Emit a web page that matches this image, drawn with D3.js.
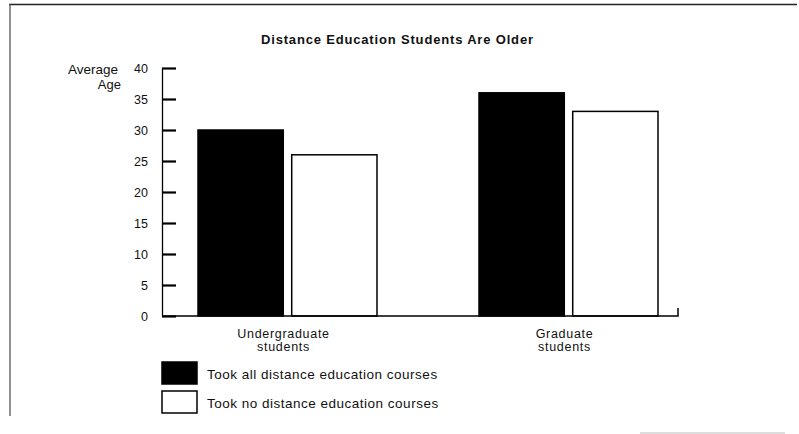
<!DOCTYPE html>
<html>
<head>
<meta charset="utf-8">
<script src="https://cdn.jsdelivr.net/npm/d3@7"></script>
<style>
  body { margin: 0; background: #fff; }
  svg { display: block; }
  text { font-family: "Liberation Sans", Arial, sans-serif; fill: #111; }
</style>
</head>
<body>
<script>
// chart data
const groups = ['Undergraduate students', 'Graduate students'];
const groupLines = [['Undergraduate', 'students'], ['Graduate', 'students']];
const series = ['Took all distance education courses', 'Took no distance education courses'];
const allDistance = [30, 36];
const noDistance = [26, 33];
const yTicks = [0, 5, 10, 15, 20, 25, 30, 35, 40];

const width = 799, height = 434;

const svg = d3.select('body').append('svg')
  .attr('width', width)
  .attr('height', height);

// scanned page frame
svg.append('line').attr('x1', 9).attr('x2', 797).attr('y1', 4.5).attr('y2', 4.5)
  .attr('stroke', '#222').attr('stroke-width', 1.3);
svg.append('line').attr('x1', 10).attr('x2', 10).attr('y1', 4).attr('y2', 416)
  .attr('stroke', '#555').attr('stroke-width', 1.3);
svg.append('line').attr('x1', 640).attr('x2', 785).attr('y1', 433).attr('y2', 433)
  .attr('stroke', '#bbb').attr('stroke-width', 1);

const y = d3.scaleLinear().domain([0, 40]).range([316, 68]);

const x0 = d3.scaleBand()
  .domain(groups)
  .range([147, 709])
  .paddingInner(0.363)
  .paddingOuter(0.1815);

const x1 = d3.scaleBand()
  .domain(series)
  .range([0, x0.bandwidth()])
  .paddingInner(0.09);

const colors = d3.scaleOrdinal().domain(series).range(['#000', '#fff']);

// title
svg.append('text')
  .attr('x', 397).attr('y', 44)
  .attr('text-anchor', 'middle')
  .attr('font-size', 13)
  .attr('font-weight', 'bold')
  .attr('textLength', 272)
  .text('Distance Education Students Are Older');

// y label
svg.append('text').attr('x', 118).attr('y', 74).attr('text-anchor', 'end')
  .attr('font-size', 13.5).attr('fill', '#222').text('Average');
svg.append('text').attr('x', 121).attr('y', 89).attr('text-anchor', 'end')
  .attr('font-size', 13).attr('fill', '#222').text('Age');

// bars
const rows = groups.map((g, i) => ({ group: g, values: [allDistance[i], noDistance[i]] }));
const gGroup = svg.append('g').selectAll('g')
  .data(rows)
  .join('g')
  .attr('transform', d => 'translate(' + x0(d.group) + ',0)');

gGroup.selectAll('rect')
  .data(d => d.values.map((v, j) => ({ key: series[j], value: v })))
  .join('rect')
  .attr('x', d => x1(d.key))
  .attr('y', d => y(d.value))
  .attr('width', x1.bandwidth())
  .attr('height', d => y(0) - y(d.value))
  .attr('fill', d => colors(d.key))
  .attr('stroke', '#000')
  .attr('stroke-width', 1.5);

// y axis, ticks pointing inward
const yAxis = svg.append('g')
  .attr('transform', 'translate(162,0)')
  .call(d3.axisRight(y).tickValues(yTicks).tickSize(14).tickSizeOuter(0));
yAxis.select('.domain').attr('stroke', '#000').attr('stroke-width', 1.3);
yAxis.selectAll('.tick line').attr('stroke', '#000').attr('stroke-width', 2.2);
yAxis.selectAll('.tick text')
  .attr('x', -14)
  .attr('text-anchor', 'end')
  .attr('font-size', 12.5)
  .attr('font-family', '"Liberation Sans", Arial, sans-serif')
  .attr('fill', '#222');

// x axis baseline with upturned end
const xEnd = 678;
svg.append('path')
  .attr('d', d3.line()([[162, y(0)], [xEnd, y(0)], [xEnd, y(0) - 8]]))
  .attr('fill', 'none')
  .attr('stroke', '#000')
  .attr('stroke-width', 1.5);

// category labels
groupLines.forEach((lines, i) => {
  const cx = x0(groups[i]) + x0.bandwidth() / 2 - 4;
  lines.forEach((t, k) => {
    svg.append('text')
      .attr('x', cx).attr('y', 338 + k * 13)
      .attr('text-anchor', 'middle')
      .attr('font-size', 12.5)
      .attr('letter-spacing', 0.7)
      .attr('fill', '#333')
      .text(t);
  });
});

// legend
const legend = svg.append('g').selectAll('g')
  .data(series)
  .join('g')
  .attr('transform', (d, i) => 'translate(162,' + (362 + i * 29) + ')');

legend.append('rect')
  .attr('width', 35).attr('height', 22)
  .attr('fill', d => colors(d))
  .attr('stroke', '#000')
  .attr('stroke-width', 1.5);

legend.append('text')
  .attr('x', 45).attr('y', 17)
  .attr('font-size', 13.5)
  .attr('letter-spacing', 0.5)
  .attr('fill', '#333')
  .text(d => d);
</script>
</body>
</html>
